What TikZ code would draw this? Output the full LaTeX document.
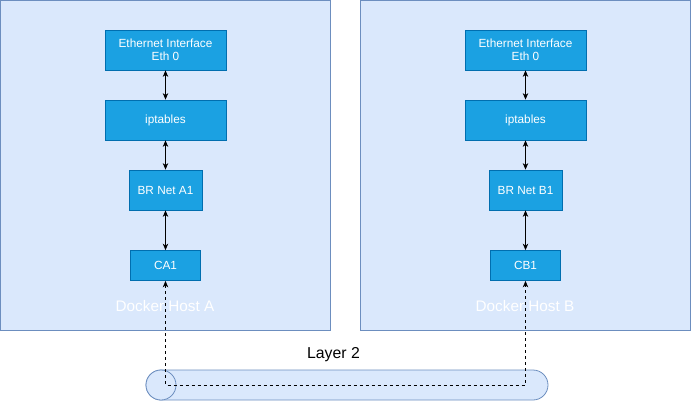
\documentclass[tikz,border=0pt]{standalone}
\usepackage{fontspec}
\setmainfont{Liberation Sans}
\usetikzlibrary{arrows.meta}
\definecolor{hostfill}{HTML}{DAE8FC}
\definecolor{hostline}{HTML}{6C8EBF}
\definecolor{boxfill}{HTML}{1BA1E2}
\definecolor{boxline}{HTML}{006EAF}
\begin{document}
\begin{tikzpicture}[x=1pt,y=-1pt,
  host/.style={draw=hostline,fill=hostfill,line width=0.8pt},
  blk/.style={draw=boxline,fill=boxfill,line width=0.8pt,text=white,font=\fontsize{11.8}{14.5}\selectfont,align=center,inner sep=0pt},
  link/.style={{Stealth[length=6.5pt,width=5.5pt]}-{Stealth[length=6.5pt,width=5.5pt]},line width=0.7pt},
  hostlabel/.style={text=white,font=\fontsize{15.3}{18}\selectfont}
]
\useasboundingbox (0,0) rectangle (691,402);
% hosts
\draw[host] (0.5,0.5) rectangle (330,330);
\draw[host] (360,0.5) rectangle (690.5,330);
\foreach \s/\o in {A/0,B/360}{
  \node[blk,minimum width=121pt,minimum height=40pt] (eth\s) at (165.5+\o,50) {Ethernet Interface\\[-1pt]Eth 0};
  \node[blk,minimum width=121pt,minimum height=40pt] (ipt\s) at (165.5+\o,120) {iptables};
  \node[blk,minimum width=73pt,minimum height=40pt] (br\s) at (165.5+\o,190) {BR Net \s1};
  \node[blk,minimum width=70pt,minimum height=30pt] (c\s) at (165.5+\o,265.5) {C\s1};
  \node[hostlabel] (lbl\s) at (165+\o,306) {Docker Host \s};
  \draw[link] (eth\s) -- (ipt\s);
  \draw[link] (ipt\s) -- (br\s);
  \draw[link] (br\s) -- (c\s);
}
% layer 2 tube
\draw[host] (161,370) -- (533,370) arc[start angle=-90,end angle=90,radius=15] -- (161,400) arc[start angle=90,end angle=270,radius=15] -- cycle;
\draw[host] (161,385) circle[radius=15];
\node[font=\fontsize{15.8}{18}\selectfont] (l2lbl) at (333.5,355) {Layer 2};
\coordinate (l2) at (0,385);
\draw[dashed,line width=0.7pt,{Stealth[length=6.5pt,width=5.5pt]}-{Stealth[length=6.5pt,width=5.5pt]}]
  (cA.south) -- (cA.south |- l2) -- (cB.south |- l2) -- (cB.south);
\end{tikzpicture}
\end{document}
